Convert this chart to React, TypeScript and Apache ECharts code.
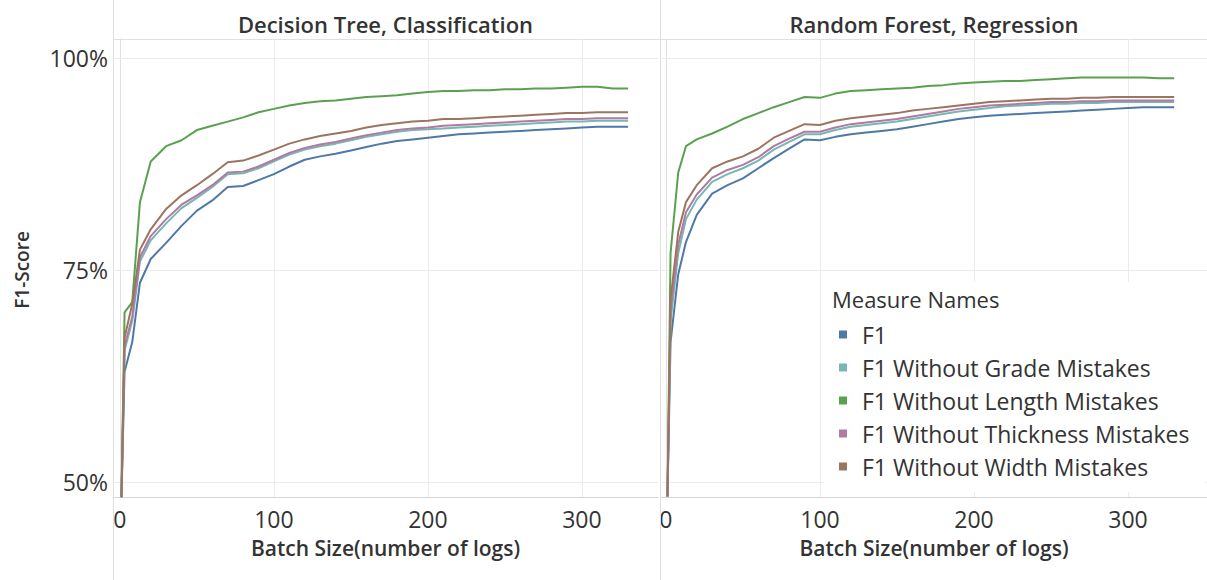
import React, { useEffect, useRef } from "react";
import * as echarts from "echarts";

// Batch size (number of logs)
const batchSizes = [1, 3, 8, 13, 20, 30, 40, 50, 60, 70, 80, 90, 100, 110, 120, 130, 140, 150, 160, 170, 180, 190, 200, 210, 220, 230, 240, 250, 260, 270, 280, 290, 300, 310, 320, 330];

const seriesNames = [
  "F1",
  "F1 Without Grade Mistakes",
  "F1 Without Length Mistakes",
  "F1 Without Thickness Mistakes",
  "F1 Without Width Mistakes",
];
const seriesColors = ["#4e79a7", "#76b7b2", "#59a14f", "#b07aa1", "#9c755f"];

const panelTitles = ["Decision Tree, Classification", "Random Forest, Regression"];
const xTickValues = [0, 100, 200, 300];
const yTickValues = [50, 75, 100];

// Decision Tree, Classification (F1-score, %)
const dtF1 = [48.2, 63.0, 66.5, 73.5, 76.3, 78.2, 80.2, 82.0, 83.2, 84.8, 84.9, 85.6, 86.3, 87.2, 88.0, 88.4, 88.7, 89.1, 89.5, 89.9, 90.2, 90.4, 90.6, 90.8, 91.0, 91.1, 91.2, 91.3, 91.4, 91.5, 91.6, 91.7, 91.8, 91.9, 91.9, 91.9];
const dtGrade = [48.2, 65.5, 69.0, 76.0, 78.5, 80.5, 82.3, 83.5, 84.8, 86.3, 86.4, 87.0, 87.8, 88.6, 89.2, 89.6, 89.9, 90.3, 90.7, 91.0, 91.3, 91.5, 91.6, 91.7, 91.8, 91.9, 92.0, 92.1, 92.2, 92.3, 92.4, 92.5, 92.5, 92.6, 92.6, 92.6];
const dtLength = [48.5, 70.0, 71.2, 83.0, 87.8, 89.6, 90.3, 91.5, 92.0, 92.5, 93.0, 93.6, 94.0, 94.4, 94.7, 94.9, 95.0, 95.2, 95.4, 95.5, 95.6, 95.8, 96.0, 96.1, 96.1, 96.2, 96.2, 96.3, 96.3, 96.4, 96.4, 96.5, 96.6, 96.6, 96.4, 96.4];
const dtThickness = [48.2, 66.0, 69.5, 76.5, 79.0, 81.0, 82.7, 83.8, 85.0, 86.5, 86.6, 87.2, 88.0, 88.8, 89.4, 89.8, 90.1, 90.5, 90.9, 91.2, 91.5, 91.7, 91.8, 92.0, 92.1, 92.2, 92.3, 92.4, 92.5, 92.6, 92.7, 92.8, 92.8, 92.9, 92.9, 92.9];
const dtWidth = [48.2, 67.0, 71.0, 77.4, 79.8, 82.2, 83.8, 85.0, 86.3, 87.7, 87.9, 88.5, 89.2, 89.9, 90.4, 90.8, 91.1, 91.4, 91.8, 92.1, 92.3, 92.5, 92.6, 92.8, 92.8, 92.9, 93.0, 93.1, 93.2, 93.3, 93.4, 93.5, 93.5, 93.6, 93.6, 93.6];

// Random Forest, Regression (F1-score, %)
const rfF1 = [48.3, 66.5, 74.5, 78.3, 81.5, 84.0, 85.0, 85.8, 87.0, 88.2, 89.3, 90.4, 90.3, 90.7, 91.0, 91.2, 91.4, 91.6, 91.9, 92.2, 92.5, 92.8, 93.0, 93.2, 93.3, 93.4, 93.5, 93.6, 93.7, 93.8, 93.9, 94.0, 94.1, 94.2, 94.2, 94.2];
const rfGrade = [48.3, 69.0, 77.0, 81.0, 83.3, 85.4, 86.3, 87.0, 87.9, 89.2, 90.1, 91.0, 91.0, 91.5, 91.9, 92.1, 92.3, 92.5, 92.8, 93.1, 93.4, 93.7, 93.9, 94.1, 94.3, 94.4, 94.5, 94.6, 94.6, 94.7, 94.7, 94.8, 94.8, 94.8, 94.8, 94.8];
const rfLength = [48.3, 77.0, 86.5, 89.6, 90.4, 91.1, 91.9, 92.8, 93.5, 94.2, 94.8, 95.4, 95.3, 95.8, 96.1, 96.2, 96.3, 96.4, 96.5, 96.7, 96.8, 97.0, 97.1, 97.2, 97.3, 97.3, 97.4, 97.5, 97.6, 97.7, 97.7, 97.7, 97.7, 97.7, 97.6, 97.6];
const rfThickness = [48.3, 70.0, 78.0, 81.8, 83.9, 85.9, 86.8, 87.4, 88.3, 89.6, 90.5, 91.3, 91.3, 91.8, 92.2, 92.4, 92.6, 92.8, 93.1, 93.4, 93.7, 94.0, 94.2, 94.4, 94.5, 94.6, 94.7, 94.8, 94.8, 94.9, 94.9, 95.0, 95.0, 95.0, 95.0, 95.0];
const rfWidth = [48.3, 71.5, 79.5, 83.0, 85.0, 87.0, 87.8, 88.4, 89.3, 90.6, 91.4, 92.2, 92.1, 92.6, 92.9, 93.1, 93.3, 93.5, 93.8, 94.0, 94.2, 94.4, 94.6, 94.8, 94.9, 95.0, 95.1, 95.2, 95.2, 95.3, 95.3, 95.4, 95.4, 95.4, 95.4, 95.4];

const FONT = "'Open Sans', 'Noto Sans', sans-serif";
const TEXT = "#333333";
const GRID_LINE = "#ececec";
const SEP_LINE = "#e0e0e0";

export default function App() {
  const ref = useRef<HTMLDivElement>(null);

  useEffect(() => {
    if (!ref.current) return;
    const chart = echarts.init(ref.current, null, { renderer: "svg" });

    const panels = [
      [dtF1, dtGrade, dtLength, dtThickness, dtWidth],
      [rfF1, rfGrade, rfLength, rfThickness, rfWidth],
    ];

    const series: any[] = [];
    panels.forEach((panel, gi) => {
      panel.forEach((vals, si) => {
        const s: any = {
          type: "line",
          name: seriesNames[si],
          xAxisIndex: gi,
          yAxisIndex: gi,
          data: batchSizes.map((x, i) => [x, vals[i]]),
          showSymbol: false,
          symbol: "none",
          lineStyle: { width: 2, color: seriesColors[si] },
          itemStyle: { color: seriesColors[si] },
          z: 2 + si,
        };
        if (si === 0) {
          s.markLine = {
            silent: true,
            z: 1,
            symbol: "none",
            label: { show: false },
            lineStyle: { color: GRID_LINE, width: 1, type: "solid" },
            data: [
              ...xTickValues.filter((v) => v > 0).map((v) => ({ xAxis: v })),
              ...yTickValues.map((v) => ({ yAxis: v })),
            ],
          };
        }
        series.push(s);
      });
    });

    const xAxisCommon = {
      type: "value",
      name: "Batch Size(number of logs)",
      nameLocation: "middle",
      nameGap: 40,
      nameTextStyle: { fontFamily: FONT, fontSize: 21, fontWeight: 600, color: TEXT },
      axisLine: { show: true, lineStyle: { color: "#d6d6d6" } },
      axisTick: { show: false },
      splitLine: { show: false },
      axisLabel: {
        customValues: xTickValues,
        fontFamily: FONT,
        fontSize: 23,
        color: TEXT,
        margin: 10,
      },
    };

    const option: any = {
      animation: false,
      backgroundColor: "#ffffff",
      grid: [
        { left: 113, top: 39, width: 545, height: 458 },
        { left: 661, top: 39, width: 546, height: 458 },
      ],
      xAxis: [
        { ...xAxisCommon, gridIndex: 0, min: -4.5, max: 349.4 },
        { ...xAxisCommon, gridIndex: 1, min: -3.2, max: 351.3 },
      ],
      yAxis: [
        {
          type: "value",
          gridIndex: 0,
          min: 48.23,
          max: 102.24,
          axisLine: { show: true, lineStyle: { color: SEP_LINE } },
          axisTick: { show: false },
          splitLine: { show: false },
          axisLabel: {
            customValues: yTickValues,
            formatter: (v: number) => `${Math.round(v)}%`,
            fontFamily: FONT,
            fontSize: 23,
            color: TEXT,
            margin: 5,
          },
        },
        {
          type: "value",
          gridIndex: 1,
          min: 48.23,
          max: 102.24,
          axisLine: { show: true, lineStyle: { color: SEP_LINE } },
          axisTick: { show: false },
          splitLine: { show: false },
          axisLabel: { show: false },
        },
      ],
      legend: {
        data: seriesNames,
        orient: "vertical",
        left: 833,
        top: 322,
        icon: "rect",
        itemWidth: 8,
        itemHeight: 8,
        itemGap: 8,
        selectedMode: false,
        backgroundColor: "#ffffff",
        padding: [0, 8, 6, 6],
        textStyle: {
          fontFamily: FONT,
          fontSize: 23,
          color: TEXT,
          lineHeight: 25,
          padding: [0, 0, 0, 10],
        },
      },
      graphic: [
        {
          type: "line",
          z: 1,
          shape: { x1: 113, y1: 39.5, x2: 1207, y2: 39.5 },
          style: { stroke: SEP_LINE, lineWidth: 1 },
        },
        {
          type: "line",
          z: 1,
          shape: { x1: 113.5, y1: 0, x2: 113.5, y2: 580 },
          style: { stroke: SEP_LINE, lineWidth: 1 },
        },
        {
          type: "line",
          z: 1,
          shape: { x1: 660.5, y1: 0, x2: 660.5, y2: 580 },
          style: { stroke: SEP_LINE, lineWidth: 1 },
        },
        {
          type: "rect",
          z: 3,
          shape: { x: 824, y: 282, width: 381, height: 210 },
          style: { fill: "#ffffff" },
        },
        {
          type: "text",
          z: 10,
          x: 385.5,
          y: 24,
          style: {
            text: panelTitles[0],
            font: `600 22px ${FONT}`,
            fill: TEXT,
            align: "center",
            verticalAlign: "middle",
          },
        },
        {
          type: "text",
          z: 10,
          x: 934,
          y: 24,
          style: {
            text: panelTitles[1],
            font: `600 22px ${FONT}`,
            fill: TEXT,
            align: "center",
            verticalAlign: "middle",
          },
        },
        {
          type: "text",
          z: 10,
          x: 22,
          y: 270,
          rotation: Math.PI / 2,
          style: {
            text: "F1-Score",
            font: `600 19px ${FONT}`,
            fill: TEXT,
            align: "center",
            verticalAlign: "middle",
          },
        },
        {
          type: "text",
          z: 10,
          x: 832,
          y: 299,
          style: {
            text: "Measure Names",
            font: `500 22px ${FONT}`,
            fill: TEXT,
            align: "left",
            verticalAlign: "middle",
          },
        },
      ],
      series,
    };

    chart.setOption(option);
    return () => chart.dispose();
  }, []);

  return (
    <div
      ref={ref}
      style={{ position: "fixed", left: 0, top: 0, width: 1207, height: 580, background: "#fff" }}
    />
  );
}
